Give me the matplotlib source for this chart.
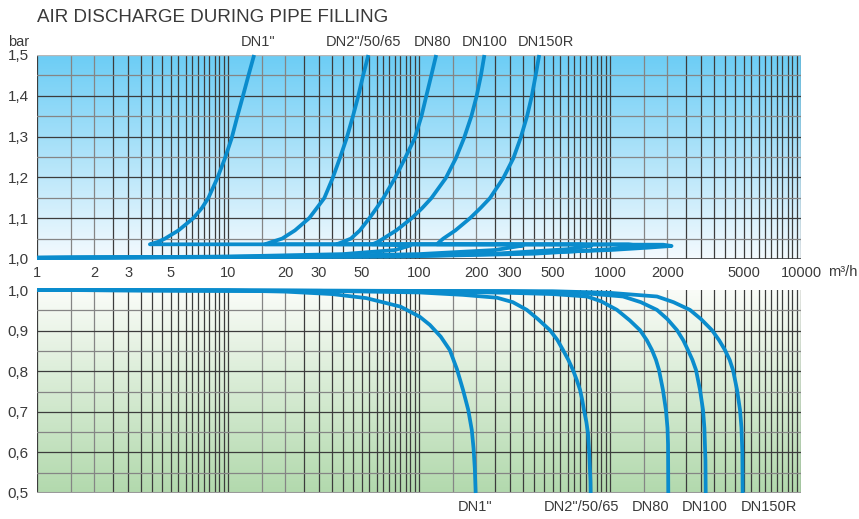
import numpy as np
import matplotlib
matplotlib.use('Agg')
import matplotlib.pyplot as plt
from matplotlib.colors import LinearSegmentedColormap

plt.rcParams['font.family'] = ['Liberation Sans', 'DejaVu Sans']

title = 'AIR DISCHARGE DURING PIPE FILLING'
names = ['DN1"', 'DN2"/50/65', 'DN80', 'DN100', 'DN150R']

# filling: air flow (m3/h) vs pressure (bar), loop at the bottom then rising branch
fill_q = [
    [1, 10, 40, 75, 90, 60, 3.9, 4.3, 4.68, 5.5, 6.58, 7.3, 7.88, 8.79, 9.64, 10.45, 11.2, 11.95, 12.8, 13.7],
    [1, 20, 100, 250, 350, 300, 15.6, 17.0, 19.2, 22.4, 26.6, 29.2, 31.9, 35.3, 38.5, 41.8, 45.1, 48.0, 51.0, 54.3],
    [1, 50, 250, 600, 800, 700, 37, 40, 44, 49, 55, 60, 65, 74.8, 84.5, 95, 103, 109, 116, 123],
    [1, 80, 400, 1000, 1400, 1250, 57, 61, 65, 76, 91.6, 104, 116, 138, 156, 172, 188, 200, 211, 220],
    [1, 100, 300, 1000, 1600, 2100, 1900, 124, 128, 134, 155, 185, 210, 235, 276, 312, 340, 368, 389, 408, 426],
]
fill_p = [
    [1.003, 1.006, 1.012, 1.022, 1.033, 1.036, 1.036, 1.042, 1.05, 1.07, 1.1, 1.125, 1.149, 1.198, 1.247, 1.296,
     1.35, 1.398, 1.45, 1.5],
    [1.003, 1.006, 1.012, 1.022, 1.033, 1.036, 1.036, 1.042, 1.05, 1.07, 1.1, 1.125, 1.149, 1.198, 1.247, 1.296,
     1.35, 1.398, 1.45, 1.5],
    [1.003, 1.006, 1.013, 1.024, 1.033, 1.036, 1.036, 1.042, 1.05, 1.07, 1.1, 1.125, 1.149, 1.198, 1.247, 1.296,
     1.35, 1.398, 1.45, 1.5],
    [1.003, 1.006, 1.013, 1.024, 1.033, 1.036, 1.036, 1.042, 1.05, 1.07, 1.1, 1.125, 1.149, 1.198, 1.247, 1.296,
     1.35, 1.398, 1.45, 1.5],
    [1.003, 1.008, 1.013, 1.022, 1.028, 1.032, 1.035, 1.036, 1.042, 1.05, 1.07, 1.1, 1.125, 1.149, 1.198, 1.247,
     1.296, 1.35, 1.398, 1.45, 1.5],
]

# vacuum side: pressure below 1 bar
vac_q = [
    [1, 10, 20, 35, 53, 80, 101, 114, 130, 145, 158, 170, 181, 189, 193, 196, 198],
    [1, 30, 100, 170, 256, 310, 367, 420, 485, 530, 568, 605, 640, 670, 697, 715, 731, 752, 767, 778, 790, 792],
    [1, 100, 300, 500, 758, 900, 1088, 1270, 1436, 1560, 1659, 1740, 1805, 1893, 1963, 2000, 2013, 2019],
    [1, 300, 700, 1170, 1450, 1762, 2000, 2243, 2420, 2560, 2700, 2820, 2960, 3070, 3120, 3160, 3170],
    [1, 500, 1000, 1762, 2150, 2622, 3000, 3420, 3730, 4000, 4230, 4405, 4625, 4795, 4880, 4930, 4950],
]
vac_p = [
    [1.0, 0.999, 0.996, 0.99, 0.98, 0.959, 0.934, 0.914, 0.885, 0.852, 0.805, 0.754, 0.705, 0.655, 0.61, 0.56, 0.5],
    [1.0, 0.998, 0.994, 0.988, 0.981, 0.97, 0.951, 0.928, 0.901, 0.877, 0.852, 0.828, 0.803, 0.778, 0.754, 0.73,
     0.704, 0.675, 0.647, 0.6, 0.53, 0.5],
    [1.0, 0.997, 0.993, 0.99, 0.984, 0.972, 0.951, 0.925, 0.901, 0.876, 0.852, 0.828, 0.803, 0.754, 0.704, 0.66,
     0.62, 0.5],
    [1.0, 0.997, 0.993, 0.984, 0.97, 0.951, 0.928, 0.901, 0.876, 0.852, 0.828, 0.803, 0.754, 0.704, 0.66, 0.58, 0.5],
    [1.0, 0.997, 0.993, 0.984, 0.97, 0.951, 0.928, 0.901, 0.876, 0.852, 0.828, 0.803, 0.754, 0.704, 0.66, 0.6, 0.5],
]

x_ticks = [1, 2, 3, 5, 10, 20, 30, 50, 100, 200, 300, 500, 1000, 2000, 5000, 10000]
top_label_x = [14.4, 51.5, 118, 222, 462]
bottom_label_x = [196, 713, 1640, 3140, 6800]

line_col = '#0a8ccd'
text_col = '#3a3a3a'
dark = '#3c3c3c'
grey = '#858585'

W, H = 859, 519
fig = plt.figure(figsize=(W / 100, H / 100), dpi=100)

left = 37 / W
width = 764 / W
top_pos = [left, 1 - 259 / H, width, 204 / H]
bot_pos = [left, 1 - 493 / H, width, 203 / H]


def gradient(pos, c_top, c_bottom):
    bg = fig.add_axes(pos, zorder=0)
    cmap = LinearSegmentedColormap.from_list('g', [c_bottom, c_top])
    grad = np.linspace(0, 1, 256).reshape(-1, 1)
    bg.imshow(grad, cmap=cmap, aspect='auto', origin='lower', extent=(0, 1, 0, 1))
    bg.axis('off')


gradient(top_pos, '#6ccdf5', '#f4fafe')
gradient(bot_pos, '#fafcf8', '#b2d9ad')

ax1 = fig.add_axes(top_pos, zorder=1)
ax2 = fig.add_axes(bot_pos, zorder=1)

# grid line positions: every half unit in each decade
vlines = []
for d in [1, 10, 100, 1000]:
    for k in np.arange(1, 10, 0.5):
        vlines.append((k * d, grey if k in (1.5, 2.0) else dark))
vlines.append((10000, dark))

for ax, y0 in [(ax1, 1.0), (ax2, 0.5)]:
    ax.set_facecolor('none')
    ax.set_xscale('log')
    ax.set_xlim(1, 10000)
    ax.set_ylim(y0, y0 + 0.5)
    for v, c in vlines:
        ax.axvline(v, color=c, lw=0.9, zorder=1)
    for i in range(1, 10):
        yy = y0 + i * 0.05
        ax.axhline(yy, color=dark if i % 2 == 0 else grey, lw=0.9, zorder=1)
    for s in ax.spines.values():
        s.set_visible(False)
    yt = [round(y0 + i * 0.1, 1) for i in range(6)]
    ax.set_yticks(yt)
    ax.set_yticklabels([('%.1f' % t).replace('.', ',') for t in yt])
    ax.tick_params(axis='y', length=0, pad=6, labelsize=11, colors=text_col)
    ax.minorticks_off()

ax1.axhline(1.5, color='#b8b8b8', lw=1.0, zorder=1)
ax1.axhline(1.0, color=dark, lw=1.2, zorder=1)
ax2.axhline(0.5, color='#9a9a9a', lw=1.5, zorder=1)

ax1.set_xticks(x_ticks)
ax1.set_xticklabels([str(t) for t in x_ticks])
ax1.tick_params(axis='x', length=0, pad=5, labelsize=10.5, colors=text_col)
ax2.set_xticks([])

for q, p in zip(fill_q, fill_p):
    ax1.plot(q, p, color=line_col, lw=2.7, solid_capstyle='butt',
             solid_joinstyle='round', clip_on=False, zorder=3)
for q, p in zip(vac_q, vac_p):
    ax2.plot(q, p, color=line_col, lw=2.7, solid_capstyle='butt',
             solid_joinstyle='round', clip_on=False, zorder=3)

for name, x in zip(names, top_label_x):
    ax1.text(x, 1.5 + 6 / 408, name, ha='center', va='bottom', fontsize=10.5, color=text_col)
for name, x in zip(names, bottom_label_x):
    ax2.text(x, 0.5 - 7 / 406, name, ha='center', va='top', fontsize=10.5, color=text_col)

fig.text(19 / W, 1 - 42 / H, 'bar', ha='center', va='center', fontsize=10.5, color=text_col)
fig.text(828 / W, 1 - 272 / H, 'm\u00b3/h', ha='left', va='center', fontsize=10.5, color=text_col)
fig.text(37 / W, 1 - 17 / H, title, ha='left', va='center', fontsize=13.5, color=text_col)

fig.savefig('out.png', dpi=100)
